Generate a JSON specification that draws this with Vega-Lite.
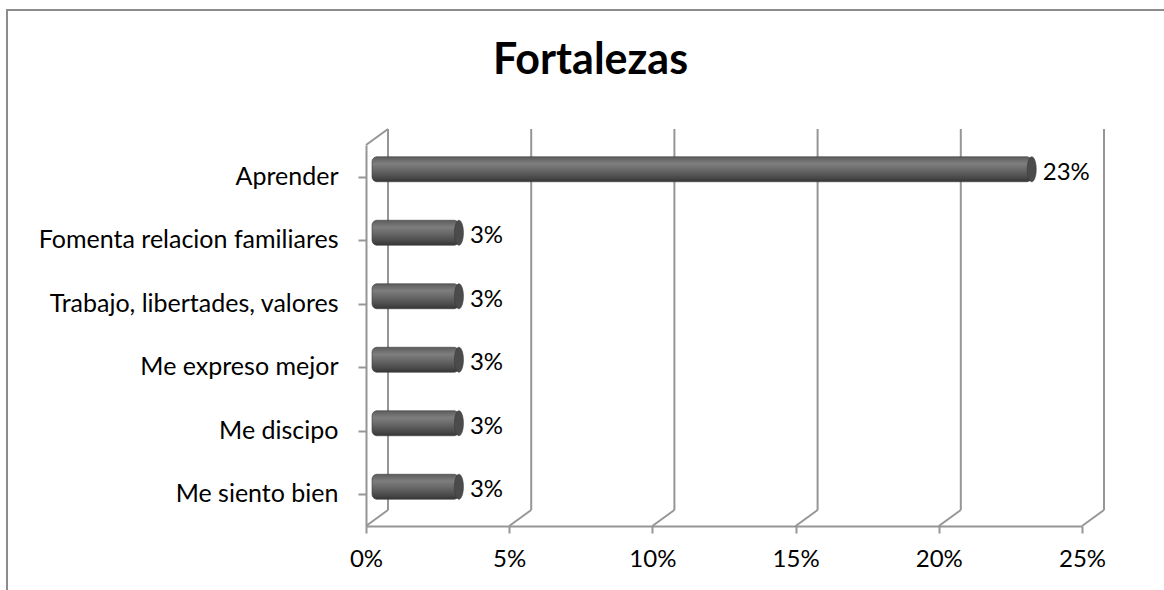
{
  "$schema": "https://vega.github.io/schema/vega-lite/v6.json",
  "width": 1161,
  "height": 584,
  "autosize": {"type": "none"},
  "padding": {"left": 7, "top": 10, "right": -4, "bottom": -4},
  "background": "white",
  "config": {"view": {"stroke": "#8c8c8c", "strokeWidth": 2}, "font": "Lato"},
  "title": {"text": "Fortalezas", "font": "Lato", "fontSize": 43, "fontWeight": "bold", "color": "black", "anchor": "middle", "baseline": "alphabetic", "offset": -65, "dx": 3, "dy": 42},
  "datasets": {
    "fort": [
      {"categoria": "Aprender", "valor": 0.23},
      {"categoria": "Fomenta relacion familiares", "valor": 0.03},
      {"categoria": "Trabajo, libertades, valores", "valor": 0.03},
      {"categoria": "Me expreso mejor", "valor": 0.03},
      {"categoria": "Me discipo", "valor": 0.03},
      {"categoria": "Me siento bien", "valor": 0.03}
    ],
    "grid": [{"v": 0}, {"v": 0.05}, {"v": 0.1}, {"v": 0.15}, {"v": 0.2}, {"v": 0.25}]
  },
  "resolve": {"scale": {"y": "independent"}, "axis": {"y": "independent"}},
  "layer": [
    {
      "data": {"name": "grid"},
      "mark": {"type": "rule", "color": "#969696", "strokeWidth": 2, "xOffset": 22, "yOffset": -16, "y2Offset": -16},
      "encoding": {
        "x": {"field": "v", "type": "quantitative",
          "scale": {"domain": [0, 0.25], "range": [359, 1075], "nice": false, "zero": true},
          "axis": {"values": [0, 0.05, 0.1, 0.15, 0.2, 0.25], "format": ".0%", "grid": false, "title": null,
            "domainColor": "#969696", "domainWidth": 2, "tickColor": "#969696", "tickWidth": 2, "tickSize": 7,
            "labelFont": "Lato", "labelFontSize": 24, "labelColor": "black", "labelPadding": 26, "labelBaseline": "middle",
            "labelFlush": false, "labelOverlap": false, "offset": -68}},
        "y": {"datum": 0, "type": "quantitative", "scale": {"domain": [0, 1], "range": [516, 135]}, "axis": null},
        "y2": {"datum": 1}
      }
    },
    {
      "data": {"name": "grid"},
      "mark": {"type": "rule", "color": "#969696", "strokeWidth": 2, "x2Offset": 22, "y2Offset": -16},
      "encoding": {
        "x": {"field": "v", "type": "quantitative"},
        "x2": {"field": "v"},
        "y": {"datum": 0, "type": "quantitative", "scale": {"domain": [0, 1], "range": [516, 135]}, "axis": null},
        "y2": {"datum": 0}
      }
    },
    {
      "data": {"name": "grid"},
      "transform": [{"filter": "datum.v == 0"}],
      "mark": {"type": "rule", "color": "#969696", "strokeWidth": 2, "x2Offset": 22, "y2Offset": -16},
      "encoding": {
        "x": {"field": "v", "type": "quantitative"},
        "x2": {"field": "v"},
        "y": {"datum": 1, "type": "quantitative", "scale": {"domain": [0, 1], "range": [516, 135]}, "axis": null},
        "y2": {"datum": 1}
      }
    },
    {
      "data": {"name": "fort"},
      "mark": {"type": "bar", "height": 25, "cornerRadius": 5, "xOffset": 7, "x2Offset": 6, "yOffset": -7.5, "y2Offset": -7.5,
        "stroke": "#3c3c3c", "strokeWidth": 0.6,
        "color": {"gradient": "linear", "x1": 0, "y1": 0, "x2": 0, "y2": 1,
          "stops": [
            {"offset": 0, "color": "#5c5c5c"},
            {"offset": 0.28, "color": "#7e7e7e"},
            {"offset": 0.55, "color": "#666666"},
            {"offset": 0.85, "color": "#484848"},
            {"offset": 1, "color": "#353535"}
          ]}},
      "encoding": {
        "x": {"field": "valor", "type": "quantitative"},
        "x2": {"datum": 0},
        "y": {"field": "categoria", "type": "nominal", "sort": null,
          "scale": {"range": [135, 516], "paddingInner": 0, "paddingOuter": 0},
          "axis": {"orient": "left", "title": null, "ticks": false, "grid": false, "domain": true,
            "domainColor": "#969696", "domainWidth": 2, "labelFont": "Lato", "labelFontSize": 25,
            "labelColor": "black", "labelPadding": 28, "labelLimit": 0, "offset": -359}}
      }
    },
    {
      "data": {"name": "fort"},
      "mark": {"type": "point", "shape": "M0,-1A0.36,1,0,1,1,0,1A0.36,1,0,1,1,0,-1Z", "size": 625, "filled": true,
        "color": "#4b4b4b", "opacity": 1, "stroke": "#3a3a3a", "strokeWidth": 0.6, "xOffset": 7, "yOffset": -7.5},
      "encoding": {
        "x": {"field": "valor", "type": "quantitative"},
        "y": {"field": "categoria", "type": "nominal", "sort": null,
          "scale": {"range": [135, 516], "paddingInner": 0, "paddingOuter": 0},
          "axis": {"orient": "left", "title": null, "labels": false, "domain": false, "grid": false,
            "ticks": true, "tickSize": 8, "tickColor": "#969696", "tickWidth": 2, "bandPosition": 1, "offset": -359}}
      }
    },
    {
      "data": {"name": "fort"},
      "mark": {"type": "text", "align": "left", "baseline": "middle", "dx": 18, "dy": -4, "font": "Lato", "fontSize": 24, "color": "black"},
      "encoding": {
        "x": {"field": "valor", "type": "quantitative"},
        "y": {"field": "categoria", "type": "nominal", "sort": null,
          "scale": {"range": [135, 516], "paddingInner": 0, "paddingOuter": 0}, "axis": null},
        "text": {"field": "valor", "type": "quantitative", "format": ".0%"}
      }
    }
  ]
}
